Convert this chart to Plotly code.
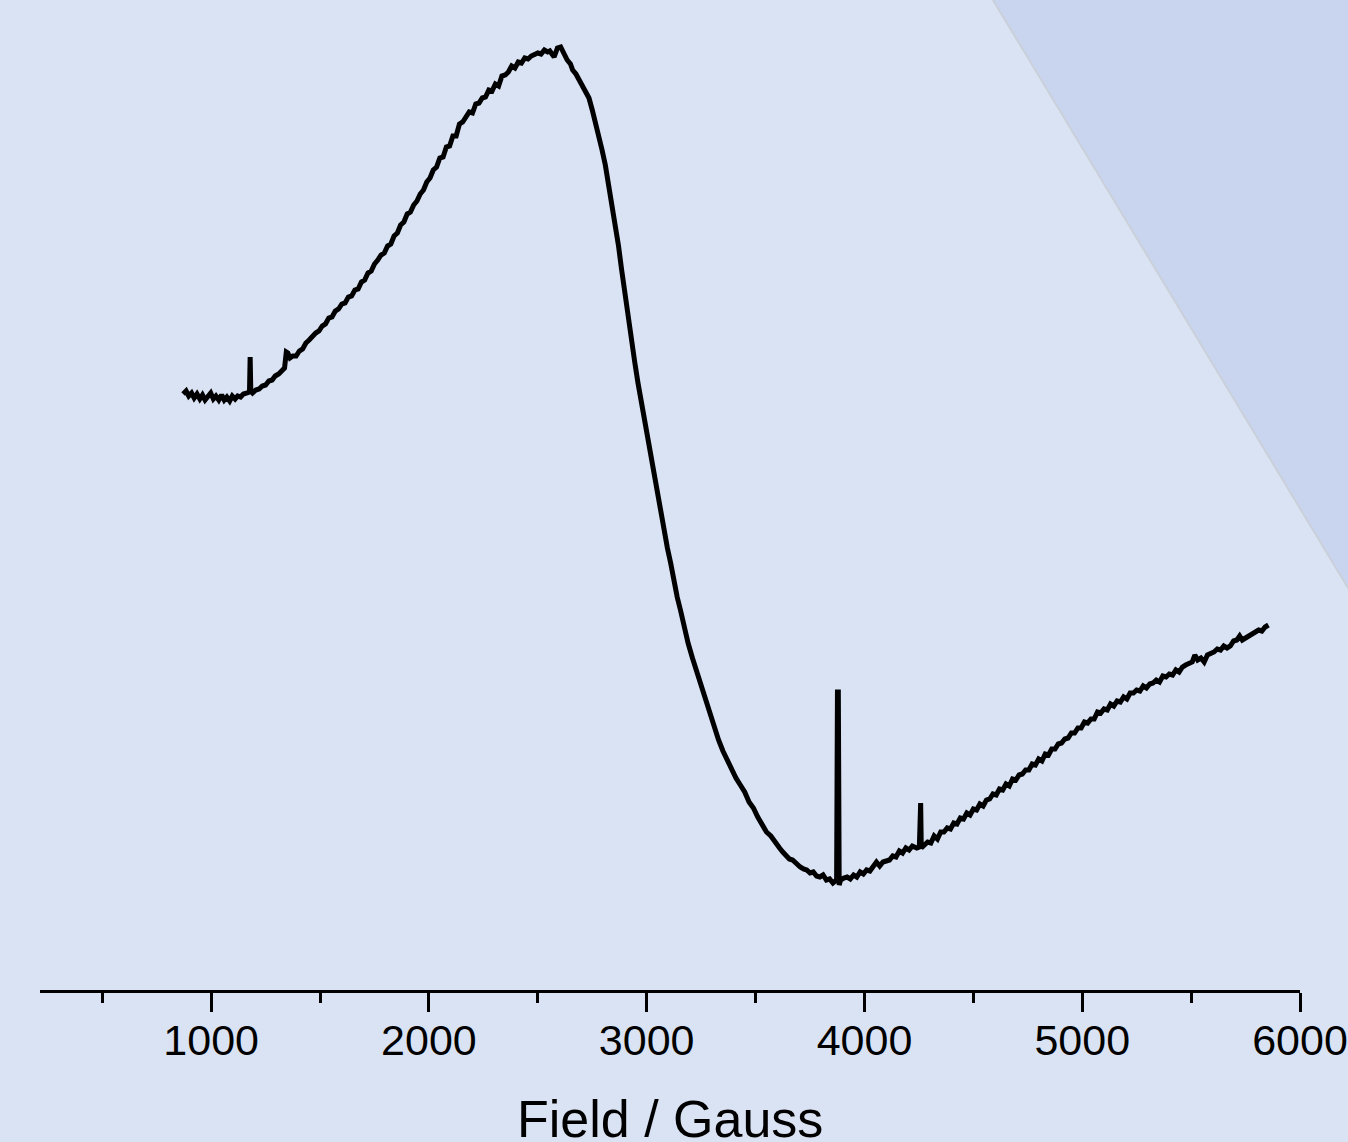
import plotly.graph_objects as go

# Magnetic field (Gauss) and EPR signal intensity (a.u.)
field = [
    871, 885, 897, 910, 922, 935, 948, 960, 972, 985, 998, 1010, 1022, 1035, 1048, 1060, 1072, 1085, 1097, 1110,
    1122, 1135, 1148, 1165, 1172, 1176, 1179, 1182, 1190, 1205, 1220, 1235, 1250, 1265, 1280, 1294, 1310, 1325, 1337, 1345,
    1352, 1362, 1375, 1390, 1405, 1420, 1435, 1450, 1465, 1480, 1495, 1510, 1525, 1540, 1555, 1570, 1585, 1600, 1615, 1630,
    1645, 1660, 1675, 1690, 1705, 1720, 1735, 1750, 1765, 1780, 1795, 1810, 1825, 1840, 1855, 1870, 1885, 1900, 1915, 1930,
    1945, 1960, 1975, 1990, 2005, 2020, 2035, 2050, 2065, 2080, 2095, 2110, 2125, 2140, 2155, 2170, 2185, 2200, 2215, 2230,
    2245, 2260, 2275, 2290, 2305, 2320, 2335, 2350, 2365, 2380, 2395, 2410, 2425, 2440, 2455, 2470, 2485, 2500, 2515, 2530,
    2545, 2555, 2575, 2590, 2605, 2620, 2635, 2650, 2660, 2675, 2690, 2705, 2720, 2735, 2750, 2765, 2780, 2795, 2810, 2825,
    2840, 2855, 2870, 2885, 2900, 2915, 2930, 2945, 2960, 2975, 2990, 3005, 3020, 3035, 3050, 3065, 3080, 3095, 3110, 3125,
    3140, 3155, 3170, 3190, 3210, 3230, 3250, 3270, 3290, 3310, 3330, 3350, 3370, 3390, 3410, 3430, 3450, 3470, 3490, 3510,
    3530, 3550, 3570, 3590, 3610, 3625, 3640, 3655, 3670, 3690, 3705, 3720, 3735, 3750, 3765, 3780, 3795, 3810, 3825, 3840,
    3855, 3866, 3872, 3876, 3880, 3884, 3890, 3905, 3920, 3935, 3950, 3965, 3980, 3995, 4010, 4025, 4040, 4055, 4070, 4085,
    4100, 4115, 4130, 4145, 4160, 4175, 4190, 4205, 4220, 4240, 4252, 4255, 4258, 4261, 4275, 4290, 4305, 4320, 4335, 4350,
    4365, 4380, 4395, 4410, 4425, 4440, 4455, 4470, 4485, 4500, 4515, 4530, 4545, 4560, 4575, 4590, 4605, 4620, 4635, 4650,
    4665, 4680, 4695, 4710, 4725, 4740, 4755, 4770, 4785, 4800, 4815, 4830, 4845, 4860, 4875, 4890, 4905, 4920, 4935, 4950,
    4965, 4980, 4995, 5010, 5025, 5040, 5055, 5070, 5085, 5100, 5115, 5130, 5145, 5160, 5175, 5190, 5205, 5220, 5235, 5250,
    5265, 5280, 5295, 5310, 5325, 5340, 5355, 5370, 5385, 5400, 5415, 5430, 5445, 5460, 5475, 5490, 5505, 5517, 5530, 5545,
    5560, 5575, 5590, 5605, 5620, 5635, 5650, 5665, 5680, 5695, 5710, 5723, 5735, 5750, 5765, 5780, 5795, 5810, 5825, 5840,
    5855,
]
intensity = [
    206, 209, 204, 207, 202, 206, 201, 205, 200, 204, 207, 201, 204, 200, 205, 200, 203, 199, 204, 201,
    204, 203, 206, 207, 208, 208, 243, 209, 207, 210, 211, 214, 215, 219, 220, 224, 226, 230, 232, 248,
    247, 242, 244, 244, 249, 251, 257, 260, 264, 267, 269, 274, 276, 282, 283, 289, 291, 296, 297, 303,
    304, 310, 311, 318, 320, 327, 329, 336, 340, 345, 347, 354, 356, 364, 367, 375, 378, 386, 388, 395,
    399, 406, 410, 418, 422, 430, 433, 442, 443, 453, 454, 464, 464, 476, 478, 483, 488, 487, 496, 497,
    502, 503, 510, 509, 516, 514, 524, 525, 528, 534, 532, 538, 537, 542, 541, 544, 545, 547, 546, 550,
    548, 549, 543, 552, 553, 545, 540, 536, 530, 526, 520, 513, 508, 502, 490, 478, 464, 450, 435, 415,
    397, 379, 355, 330, 305, 282, 260, 238, 217, 198, 180, 165, 145, 128, 108, 88, 70, 52, 37, 18,
    3, -10, -25, -43, -58, -72, -86, -101, -116, -128, -140, -151, -160, -170, -178, -185, -192, -202, -208, -217,
    -224, -232, -236, -243, -248, -252, -256, -259, -260, -265, -267, -269, -270, -273, -272, -276, -277, -275, -280, -279,
    -283, -281, -282, -92, -92, -285, -280, -278, -277, -279, -275, -277, -272, -274, -270, -271, -266, -262, -266, -262,
    -261, -260, -256, -257, -251, -253, -248, -250, -246, -248, -247, -203, -203, -248, -245, -242, -243, -236, -239, -232,
    -232, -228, -229, -223, -224, -218, -219, -213, -215, -209, -210, -204, -206, -200, -199, -194, -195, -189, -190, -184,
    -186, -179, -180, -175, -174, -170, -170, -164, -165, -159, -161, -154, -155, -149, -149, -144, -143, -139, -138, -133,
    -133, -128, -128, -122, -123, -119, -119, -112, -113, -109, -110, -104, -106, -101, -102, -97, -99, -93, -93, -90,
    -91, -86, -88, -84, -83, -80, -82, -76, -77, -74, -75, -70, -72, -67, -65, -64, -62, -55, -60, -58,
    -62, -55, -54, -52, -49, -50, -46, -48, -46, -41, -40, -36, -40, -38, -36, -34, -33, -30, -31, -27,
    -25,
]

x_ticks = [1000, 2000, 3000, 4000, 5000, 6000]
x_title = "Field / Gauss"

BG = "#DAE3F3"
FONT = "Arial, Liberation Sans, sans-serif"

fig = go.Figure()
fig.add_trace(go.Scatter(
    x=field, y=intensity, mode="lines",
    line=dict(color="black", width=5),
    showlegend=False, hoverinfo="skip",
))

# decorative slide panel in the top-right corner
fig.add_shape(type="path", xref="paper", yref="paper",
              path="M 0.7563,1.0 L 1.06,1.0 L 1.06,0.36 Z",
              fillcolor="#C9D5EF", line=dict(width=0), layer="below")
fig.add_shape(type="line", xref="paper", yref="paper",
              x0=0.7563, y0=1.0, x1=1.06, y1=0.36,
              line=dict(color="#CAD0DA", width=2), layer="below")

# axis title placed as text below the tick labels
fig.add_annotation(text=x_title, xref="paper", yref="paper", x=0.5, y=-0.1303,
                   xanchor="center", yanchor="middle", showarrow=False,
                   font=dict(size=52, family=FONT, color="black"))

fig.update_layout(
    width=1348, height=1142,
    margin=dict(l=40, r=48, t=0, b=152),
    paper_bgcolor=BG, plot_bgcolor=BG,
    font=dict(family=FONT, color="black"),
    xaxis=dict(
        range=[214, 6000],
        tickvals=x_ticks,
        ticktext=[str(v) for v in x_ticks],
        showline=True, linecolor="black", linewidth=3,
        ticks="outside", ticklen=19, tickwidth=2.5, tickcolor="black",
        minor=dict(dtick=500, tick0=0, ticks="outside", ticklen=10, tickwidth=2.5, tickcolor="black"),
        tickfont=dict(size=43, family=FONT, color="black"),
        ticklabelstandoff=-9,
        ticklabeloverflow="allow",
        showgrid=False, zeroline=False,
    ),
    yaxis=dict(range=[-390, 600], visible=False, showgrid=False, zeroline=False),
)

fig.write_html("out.html")
